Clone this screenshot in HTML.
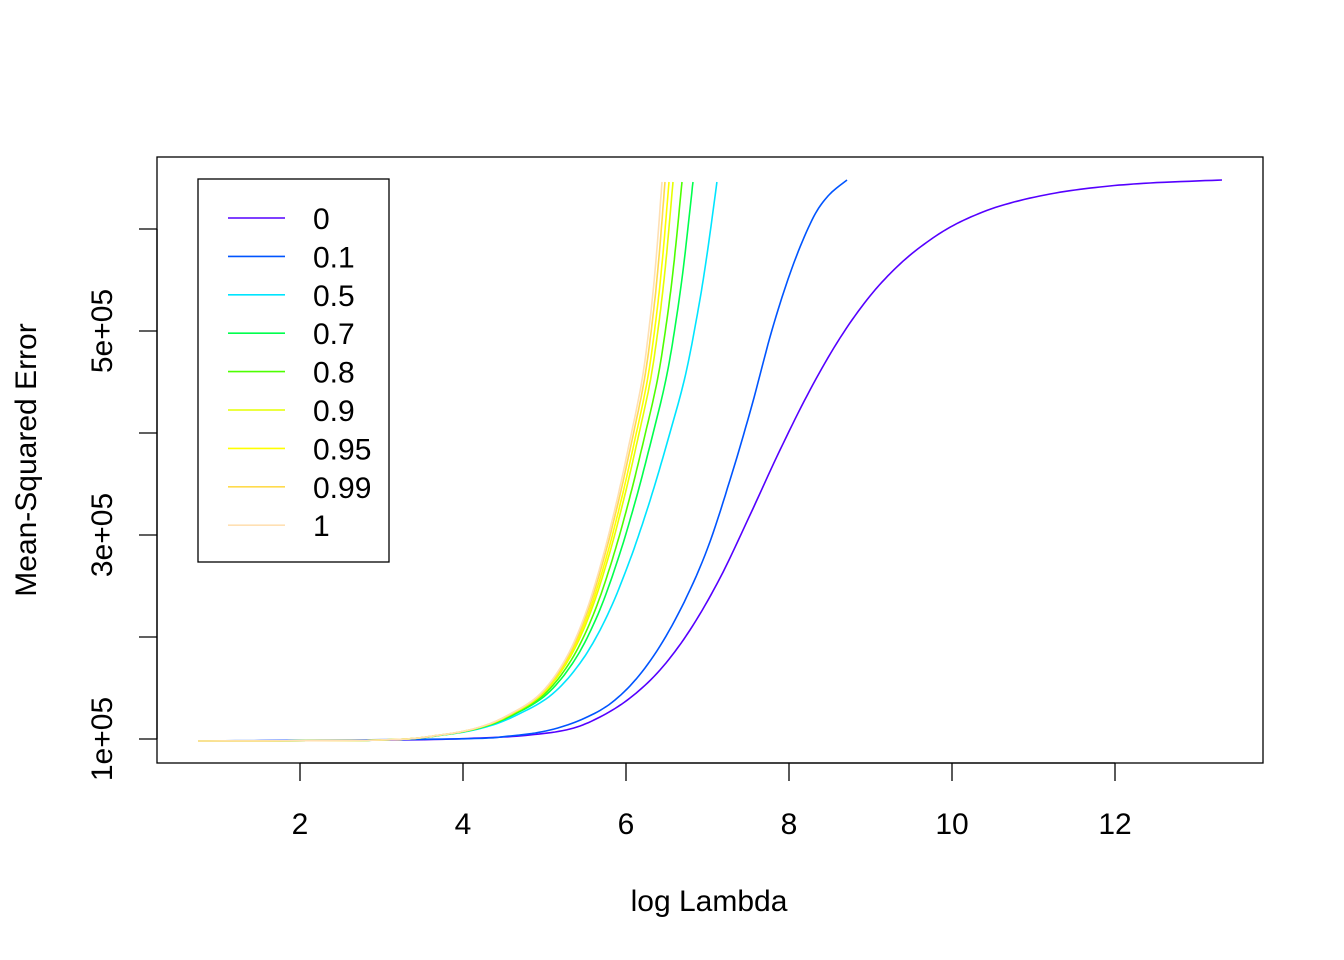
<!DOCTYPE html>
<html><head><meta charset="utf-8"><style>body{margin:0;background:#fff}svg{display:block}text{font-family:"Liberation Sans",Arial,sans-serif;fill:#000}</style></head>
<body>
<svg id="s" width="1344" height="960" viewBox="0 0 1344 960">
<rect x="157" y="157" width="1106" height="606" fill="none" stroke="#000" stroke-width="1.3"/>
<g stroke="#000" stroke-width="1.3">
<line x1="300" y1="763" x2="1115" y2="763"/>
<line x1="300" y1="763" x2="300" y2="781"/><line x1="463" y1="763" x2="463" y2="781"/><line x1="626" y1="763" x2="626" y2="781"/><line x1="789" y1="763" x2="789" y2="781"/><line x1="952" y1="763" x2="952" y2="781"/><line x1="1115" y1="763" x2="1115" y2="781"/>
<line x1="157" y1="229" x2="157" y2="739"/>
<line x1="139" y1="739" x2="157" y2="739"/><line x1="139" y1="637" x2="157" y2="637"/><line x1="139" y1="535" x2="157" y2="535"/><line x1="139" y1="433" x2="157" y2="433"/><line x1="139" y1="331" x2="157" y2="331"/><line x1="139" y1="229" x2="157" y2="229"/>
</g>
<g font-size="30" text-anchor="middle">
<text x="300" y="834">2</text><text x="463" y="834">4</text><text x="626" y="834">6</text><text x="789" y="834">8</text><text x="952" y="834">10</text><text x="1115" y="834">12</text>
<text x="709" y="911">log Lambda</text>
<text transform="translate(112,739) rotate(-90)">1e+05</text>
<text transform="translate(112,535) rotate(-90)">3e+05</text>
<text transform="translate(112,331) rotate(-90)">5e+05</text>
<text transform="translate(36,460) rotate(-90)">Mean-Squared Error</text>
</g>
<g id="curves" fill="none" stroke-width="1.6"></g>
<rect x="198" y="179" width="191" height="383" fill="#fff" stroke="#000" stroke-width="1.3"/>
<g id="leg" font-size="30"></g>
</svg>
<script>
var NS="http://www.w3.org/2000/svg";
var cols=["#5500FF","#0055FF","#00E5FF","#00FF4D","#4DFF00","#E6FF00","#FFFF00","#FFDB4D","#FFE0B3"];
var labs=["0","0.1","0.5","0.7","0.8","0.9","0.95","0.99","1"];
function path(pts,c){var p=document.createElementNS(NS,"path");var d="M"+pts[0][0]+","+pts[0][1];for(var i=1;i<pts.length;i++)d+="L"+pts[i][0].toFixed(1)+","+pts[i][1].toFixed(1);p.setAttribute("d",d);p.setAttribute("stroke",c);document.getElementById("curves").appendChild(p);}
function smooth(pts){var out=[];for(var i=0;i<pts.length-1;i++){var p0=pts[Math.max(0,i-1)],p1=pts[i],p2=pts[i+1],p3=pts[Math.min(pts.length-1,i+2)];for(var t=0;t<1;t+=0.1){var t2=t*t,t3=t2*t;var f=function(a,b,c,d){return 0.5*((2*b)+(-a+c)*t+(2*a-5*b+4*c-d)*t2+(-a+3*b-3*c+d)*t3)};out.push([f(p0[0],p1[0],p2[0],p3[0]),f(p0[1],p1[1],p2[1],p3[1])]);}}out.push(pts[pts.length-1]);return out;}
var purple=[[198,741],[400,740],[480,738],[530,735],[570,729],[600,717],[630,698],[660,670],[690,630],[720,578],[750,515],[780,450],[810,390],[840,338],[870,296],[900,264],[930,240],[960,222],[1000,206],[1050,194],[1100,187],[1150,183],[1222,180]];
var blue=[[198,741],[450,739],[510,736],[550,730],[585,718],[615,700],[645,668],[675,620],[705,555],[730,480],[752,405],[772,330],[792,268],[812,220],[828,196],[847,180]];
var tmpl=[[198,741],[380,740],[440,735],[480,727],[510,714],[540,694],[565,660],[585,615],[602,560],[617,500],[630,440],[642,380],[650,320],[656,260],[662,182]];
var offs=[55,31,20,11,7,3,0];
path(smooth(purple),cols[0]);path(smooth(blue),cols[1]);
for(var k=0;k<offs.length;k++){var pts=tmpl.map(function(p){var w=Math.min(1,Math.pow(Math.max(0,741-p[1])/560,0.6));return [p[0]+offs[k]*w-(offs[k]>0?1:0)*0,p[1]];});path(smooth(pts),cols[k+2]);}
var leg=document.getElementById("leg");
for(var i=0;i<9;i++){var y=218+i*38.4;var l=document.createElementNS(NS,"line");l.setAttribute("x1",228);l.setAttribute("x2",285);l.setAttribute("y1",y);l.setAttribute("y2",y);l.setAttribute("stroke",cols[i]);l.setAttribute("stroke-width",1.6);leg.appendChild(l);var t=document.createElementNS(NS,"text");t.setAttribute("x",313);t.setAttribute("y",y+11);t.textContent=labs[i];leg.appendChild(t);}
</script>
</body></html>
